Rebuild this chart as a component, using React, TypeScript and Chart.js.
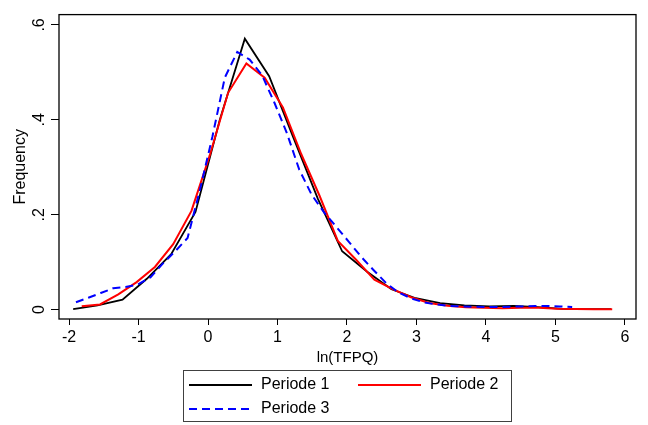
import React, { useEffect, useRef } from 'react';
import { Chart, registerables } from 'chart.js';

Chart.register(...registerables);

// ---- data ----
const xTicks = [-2, -1, 0, 1, 2, 3, 4, 5, 6];
const yTicks = [0, 0.2, 0.4, 0.6];
const yTickLabels = ['0', '.2', '.4', '.6'];
const xTitle = 'ln(TFPQ)';
const yTitle = 'Frequency';
const seriesLabels = ['Periode 1', 'Periode 2', 'Periode 3'];
const seriesColors = ['#000000', '#ff0000', '#0000ff'];

const p1X = [-1.94, -1.59, -1.23, -0.88, -0.53, -0.18, 0.17, 0.53, 0.88, 1.23, 1.58, 1.93, 2.29, 2.64, 2.99, 3.34, 3.69, 4.05, 4.40, 4.75, 5.10, 5.45, 5.80];
const p1Y = [0.001, 0.009, 0.021, 0.065, 0.117, 0.206, 0.40, 0.571, 0.492, 0.362, 0.234, 0.123, 0.080, 0.043, 0.024, 0.0135, 0.0088, 0.0067, 0.008, 0.0053, 0.0015, 0.001, 0.001];

const p2X = [-1.817, -1.554, -1.291, -1.027, -0.764, -0.501, -0.238, 0.025, 0.289, 0.552, 0.815, 1.078, 1.341, 1.605, 1.868, 2.131, 2.394, 2.657, 2.921, 3.184, 3.447, 3.710, 3.973, 4.237, 4.500, 4.763, 5.026, 5.289, 5.553, 5.816];
const p2Y = [0.0073, 0.011, 0.032, 0.058, 0.090, 0.138, 0.208, 0.325, 0.457, 0.519, 0.489, 0.426, 0.328, 0.240, 0.145, 0.105, 0.063, 0.043, 0.026, 0.014, 0.008, 0.005, 0.004, 0.003, 0.004, 0.004, 0.002, 0.0015, 0.001, 0.001];

const p3X = [-1.900, -1.722, -1.543, -1.365, -1.186, -1.008, -0.829, -0.651, -0.472, -0.294, -0.115, 0.064, 0.242, 0.421, 0.599, 0.778, 0.956, 1.135, 1.313, 1.492, 1.670, 1.849, 2.027, 2.206, 2.384, 2.563, 2.741, 2.920, 3.098, 3.277, 3.455, 3.634, 3.812, 3.991, 4.169, 4.348, 4.526, 4.705, 4.883, 5.062, 5.240];
const p3Y = [0.0155, 0.025, 0.035, 0.045, 0.0475, 0.053, 0.068, 0.097, 0.123, 0.151, 0.253, 0.365, 0.489, 0.543, 0.527, 0.494, 0.436, 0.372, 0.295, 0.242, 0.205, 0.174, 0.143, 0.111, 0.083, 0.056, 0.036, 0.024, 0.0155, 0.011, 0.008, 0.0068, 0.006, 0.0055, 0.0055, 0.006, 0.0068, 0.0075, 0.0075, 0.0068, 0.0055];

const FONT = "'Liberation Sans', Arial, sans-serif";

const toPts = (xs: number[], ys: number[]) => xs.map((x, i) => ({ x, y: ys[i] }));

const framePlugin = {
  id: 'frameAndLegend',
  afterDraw(chart: any) {
    const { ctx, chartArea: a } = chart;
    ctx.save();
    ctx.strokeStyle = '#000';
    ctx.lineWidth = 1.3;
    ctx.setLineDash([]);
    ctx.strokeRect(a.left, a.top, a.right - a.left, a.bottom - a.top);

    // legend box
    const bx = 183.5, by = 370.5, bw = 328, bh = 51;
    ctx.strokeStyle = '#404040';
    ctx.lineWidth = 1;
    ctx.strokeRect(bx, by, bw, bh);
    ctx.font = `16px ${FONT}`;
    ctx.textBaseline = 'middle';
    ctx.textAlign = 'left';
    chart.data.datasets.forEach((ds: any, i: number) => {
      const col = i % 2;
      const row = Math.floor(i / 2);
      const x0 = 189 + col * 169;
      const y = 385 + row * 24;
      ctx.strokeStyle = ds.borderColor;
      ctx.lineWidth = ds.borderWidth;
      ctx.setLineDash(ds.borderDash || []);
      ctx.beginPath();
      ctx.moveTo(x0, y);
      ctx.lineTo(x0 + 63, y);
      ctx.stroke();
      ctx.setLineDash([]);
      ctx.fillStyle = '#000';
      ctx.fillText(ds.label, x0 + 72, y);
    });
    ctx.restore();
  },
};

export default function App() {
  const ref = useRef<HTMLCanvasElement | null>(null);

  useEffect(() => {
    if (!ref.current) return;
    Chart.defaults.font.family = FONT;
    Chart.defaults.font.size = 16;
    Chart.defaults.color = '#000';

    const chart = new Chart(ref.current, {
      type: 'line',
      data: {
        datasets: [
          {
            label: seriesLabels[0],
            data: toPts(p1X, p1Y),
            borderColor: seriesColors[0],
            borderWidth: 1.8,
            pointRadius: 0,
            tension: 0,
            fill: false,
            order: 3,
          },
          {
            label: seriesLabels[1],
            data: toPts(p2X, p2Y),
            borderColor: seriesColors[1],
            borderWidth: 2,
            pointRadius: 0,
            tension: 0,
            fill: false,
            order: 2,
          },
          {
            label: seriesLabels[2],
            data: toPts(p3X, p3Y),
            borderColor: seriesColors[2],
            borderWidth: 2,
            borderDash: [8, 5],
            pointRadius: 0,
            tension: 0,
            fill: false,
            order: 1,
          },
        ],
      },
      options: {
        responsive: false,
        animation: false,
        events: [],
        layout: { padding: { left: 0, right: 12, top: 4, bottom: 56 } },
        plugins: {
          legend: { display: false },
          tooltip: { enabled: false },
        },
        scales: {
          x: {
            type: 'linear',
            min: -2.1439,
            max: 6.1583,
            afterBuildTicks: (s: any) => {
              s.ticks = xTicks.map((v) => ({ value: v }));
            },
            afterFit: (s: any) => {
              s.height = 50;
            },
            grid: {
              drawOnChartArea: false,
              drawTicks: true,
              tickLength: 6,
              color: '#000',
              lineWidth: 1,
            },
            border: { display: false },
            ticks: {
              padding: 3,
              maxRotation: 0,
              autoSkip: false,
              color: '#000',
              font: { size: 16, family: FONT },
              callback: (v: any) => String(v),
            },
            title: {
              display: true,
              text: xTitle,
              color: '#000',
              font: { size: 15, family: FONT },
              padding: { top: 0, bottom: 2 },
            },
          },
          y: {
            type: 'linear',
            min: -0.01976,
            max: 0.6218,
            afterBuildTicks: (s: any) => {
              s.ticks = yTicks.map((v) => ({ value: v }));
            },
            afterFit: (s: any) => {
              s.width = 59;
            },
            grid: {
              drawOnChartArea: false,
              drawTicks: true,
              tickLength: 8,
              color: '#000',
              lineWidth: 1,
            },
            border: { display: false },
            ticks: {
              padding: 5,
              minRotation: 90,
              maxRotation: 90,
              crossAlign: 'center',
              autoSkip: false,
              color: '#000',
              font: { size: 16, family: FONT },
              callback: (_v: any, i: number) => yTickLabels[i],
            },
            title: {
              display: true,
              text: yTitle,
              color: '#000',
              font: { size: 16, family: FONT },
              padding: { top: 11, bottom: 0 },
            },
          },
        },
      },
      plugins: [framePlugin],
    } as any);

    return () => chart.destroy();
  }, []);

  return (
    <div style={{ position: 'absolute', left: 0, top: 0, width: 648, height: 425, background: '#fff' }}>
      <canvas ref={ref} width={648} height={425} style={{ display: 'block' }} />
    </div>
  );
}
